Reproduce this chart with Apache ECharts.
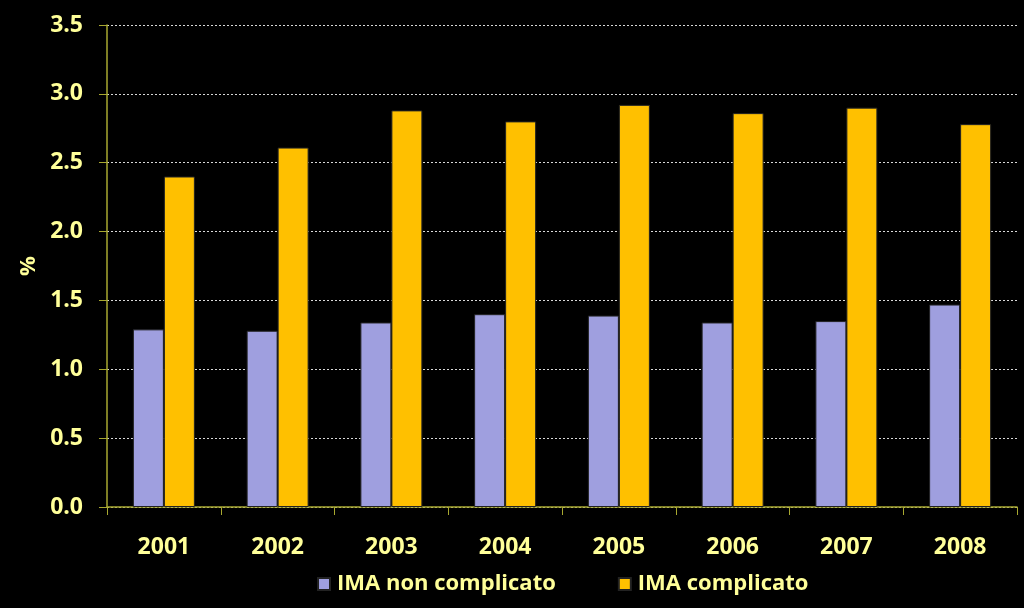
<!DOCTYPE html>
<html>
<head>
<meta charset="utf-8">
<style>html,body{margin:0;padding:0;background:#000;}#c{width:1024px;height:608px;}</style>
<script src="https://cdn.jsdelivr.net/npm/echarts@6/dist/echarts.min.js"></script>
</head>
<body>
<div id="c"></div>
<script>
var categories = ['2001','2002','2003','2004','2005','2006','2007','2008'];
var nonComplicato = [1.29, 1.28, 1.34, 1.40, 1.39, 1.34, 1.35, 1.47];
var complicato = [2.40, 2.61, 2.88, 2.80, 2.92, 2.86, 2.90, 2.78];
var seriesNames = ['IMA non complicato', 'IMA complicato'];

var txt = '#ffff99';
var font = '"Open Sans", sans-serif';
var chart = echarts.init(document.getElementById('c'));
chart.setOption({
  backgroundColor: '#000',
  animation: false,
  grid: {left: 107, right: 7, top: 25, bottom: 101},
  legend: {
    bottom: 8, left: 312, itemWidth: 12, itemHeight: 12, itemGap: 62,
    icon: 'rect',
    textStyle: {color: txt, fontSize: 22, fontWeight: 'bold', fontFamily: font, padding: [0,0,0,2]},
    data: seriesNames
  },
  xAxis: {
    type: 'category', data: categories,
    axisLine: {lineStyle: {color: '#a8a830', width: 1.5}},
    axisTick: {show: true, length: 8, lineStyle: {color: '#a8a830'}},
    axisLabel: {color: txt, fontSize: 23, fontWeight: 'bold', fontFamily: font, margin: 29}
  },
  yAxis: {
    type: 'value', min: 0, max: 3.5, interval: 0.5,
    name: '%', nameLocation: 'middle', nameGap: 62, nameRotate: 90,
    nameTextStyle: {color: txt, fontSize: 22, fontWeight: 'bold', fontFamily: font},
    axisLine: {show: true, lineStyle: {color: '#a8a830', width: 1.5}},
    axisTick: {show: true, length: 8, lineStyle: {color: '#a8a830'}},
    axisLabel: {color: txt, fontSize: 23, fontWeight: 'bold', fontFamily: font, margin: 24,
      formatter: function(v){return v.toFixed(1);}},
    splitLine: {lineStyle: {color: '#d8d8d8', type: [2,2], width: 1}}
  },
  series: [
    {name: seriesNames[0], type: 'bar', data: nonComplicato, barWidth: 31, barGap: '0%',
     itemStyle: {color: '#9f9fdf', borderColor: '#222', borderWidth: 1}},
    {name: seriesNames[1], type: 'bar', data: complicato, barWidth: 31,
     itemStyle: {color: '#ffc000', borderColor: '#222', borderWidth: 1}}
  ]
});
</script>
</body>
</html>
